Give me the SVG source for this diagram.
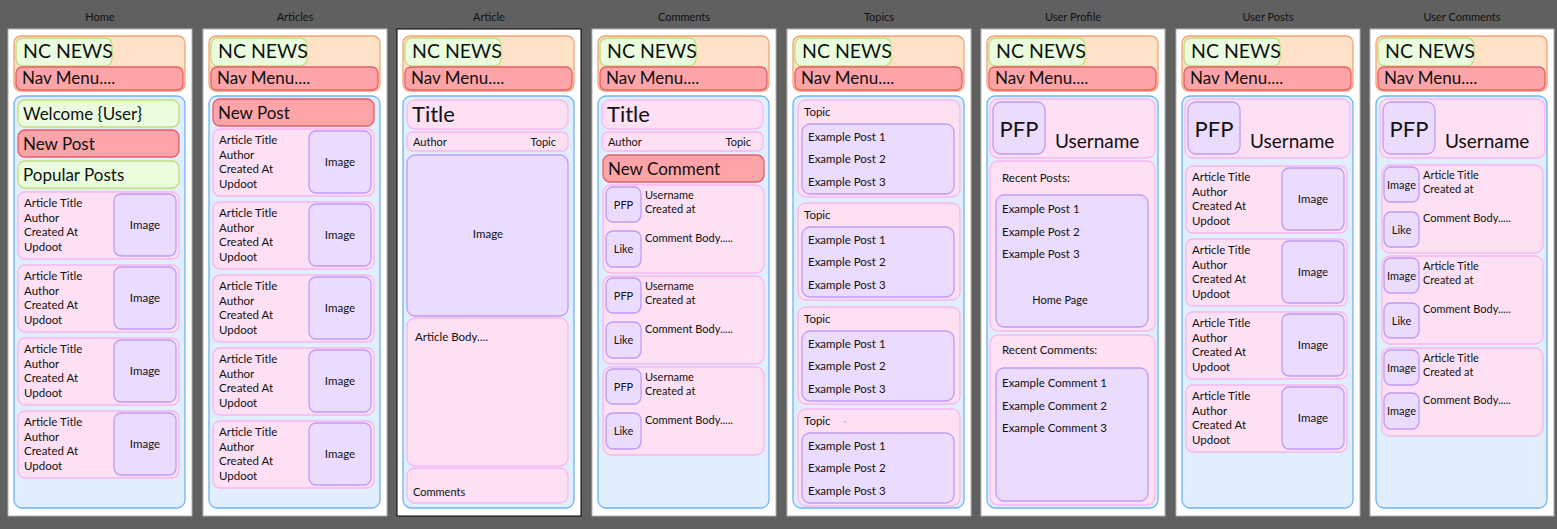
<svg xmlns="http://www.w3.org/2000/svg" width="1557" height="529" viewBox="0 0 1557 529">
<style>
text{font-family:Lato,"Open Sans","Liberation Sans",sans-serif;fill:#111}
.ttl{font-size:11px;text-anchor:middle}
.frame{fill:#fff;stroke:#b4b4b4;stroke-width:1}
.frame.sel{stroke:#000}
.hdr{fill:#fde2c8;stroke:#f7a276;stroke-width:1.3}
.logo{fill:#ebfddf;stroke:#c6dc78;stroke-width:1.3}
.nav{fill:#fda4a9;stroke:#e65d6a;stroke-width:1.3}
.body{fill:#e0eefe;stroke:#6eb2fa;stroke-width:1.3}
.card{fill:#fde0f3;stroke:#f8b7f0;stroke-width:1.3}
.inner{fill:#ebdcfe;stroke:#bf9cf5;stroke-width:1.3}
.big{font-size:19.5px}
.mid{font-size:17px}
.sm{font-size:11.5px}
.xs{font-size:11px}
.c{text-anchor:middle}
.e{text-anchor:end}
.huge{font-size:22px}
.user{font-size:19px}
</style>
<defs>
<g id="header">
<rect class="hdr" x="6" y="36" width="171" height="55" rx="7"/>
<rect class="logo" x="8" y="38" width="96" height="28" rx="7"/>
<rect class="nav" x="8" y="67" width="167" height="23" rx="6"/>
<rect class="body" x="6" y="96" width="171" height="412" rx="8"/>
</g>
<g id="artcard">
<rect class="card" x="10" y="0" width="161" height="67" rx="7"/>
<rect class="inner" x="106" y="2" width="62" height="62" rx="7"/>
<text class="sm c" x="137" y="37">Image</text>
<text class="sm" x="16" y="15">Article Title</text>
<text class="sm" x="16" y="29.7">Author</text>
<text class="sm" x="16" y="44.4">Created At</text>
<text class="sm" x="16" y="59">Updoot</text>
</g>
<g id="topiccard">
<rect class="card" x="11" y="0" width="162" height="97" rx="8"/>
<text class="sm" x="17" y="16">Topic</text>
<rect class="inner" x="15" y="24" width="152" height="70" rx="8"/>
<text class="sm" x="21" y="41">Example Post 1</text>
<text class="sm" x="21" y="63">Example Post 2</text>
<text class="sm" x="21" y="86">Example Post 3</text>
</g>
<g id="profile">
<rect class="card" x="9" y="99" width="165" height="59" rx="8"/>
<rect class="inner" x="12" y="102" width="52" height="52" rx="8"/>
<text class="huge c" x="38" y="137">PFP</text>
<text class="user" x="74" y="148">Username</text>
</g>
</defs>
<rect x="0" y="0" width="1557" height="529" fill="#606060"/>

<g id="home" transform="translate(8,0)">
<text class="ttl" x="92" y="21">Home</text>
<rect class="frame" x="0" y="29" width="184" height="487"/>
<use href="#header"/>
<text class="big" x="15" y="58">NC NEWS</text>
<text class="mid" x="14" y="84">Nav Menu....</text>
<rect class="logo" x="10" y="100" width="161" height="27" rx="7"/>
<text class="mid" x="15" y="120">Welcome {User}</text>
<rect class="nav" x="10" y="130" width="161" height="27" rx="7"/>
<text class="mid" x="15" y="150">New Post</text>
<rect class="logo" x="10" y="161" width="161" height="27" rx="7"/>
<text class="mid" x="15" y="181">Popular Posts</text>
<use href="#artcard" y="192"/>
<use href="#artcard" y="265"/>
<use href="#artcard" y="338"/>
<use href="#artcard" y="411"/>
</g>

<g id="articles" transform="translate(203,0)">
<text class="ttl" x="92" y="21">Articles</text>
<rect class="frame" x="0" y="29" width="184" height="487"/>
<use href="#header"/>
<text class="big" x="15" y="58">NC NEWS</text>
<text class="mid" x="14" y="84">Nav Menu....</text>
<rect class="nav" x="10" y="99" width="161" height="27" rx="7"/>
<text class="mid" x="15" y="119">New Post</text>
<use href="#artcard" y="129"/>
<use href="#artcard" y="202"/>
<use href="#artcard" y="275"/>
<use href="#artcard" y="348"/>
<use href="#artcard" y="421"/>
</g>

<g id="article" transform="translate(397,0)">
<text class="ttl" x="92" y="21">Article</text>
<rect class="frame sel" x="0" y="29" width="184" height="487"/>
<use href="#header"/>
<text class="big" x="15" y="58">NC NEWS</text>
<text class="mid" x="14" y="84">Nav Menu....</text>
<rect class="card" x="10" y="100" width="161" height="29" rx="8"/>
<text class="huge" x="15" y="122">Title</text>
<rect class="card" x="10" y="132" width="161" height="19" rx="6"/>
<text class="xs" x="16" y="146">Author</text>
<text class="xs e" x="159" y="146">Topic</text>
<rect class="inner" x="10" y="155" width="161" height="161" rx="8"/>
<text class="sm c" x="91" y="238">Image</text>
<rect class="card" x="10" y="318" width="161" height="148" rx="8"/>
<text class="sm" x="18" y="341">Article Body....</text>
<rect class="card" x="10" y="468" width="161" height="35" rx="8"/>
<text class="xs" x="16" y="496">Comments</text>
</g>

<g id="comments" transform="translate(592,0)">
<text class="ttl" x="92" y="21">Comments</text>
<rect class="frame" x="0" y="29" width="184" height="487"/>
<use href="#header"/>
<text class="big" x="15" y="58">NC NEWS</text>
<text class="mid" x="14" y="84">Nav Menu....</text>
<rect class="card" x="10" y="100" width="161" height="29" rx="8"/>
<text class="huge" x="15" y="122">Title</text>
<rect class="card" x="10" y="132" width="161" height="19" rx="6"/>
<text class="xs" x="16" y="146">Author</text>
<text class="xs e" x="159" y="146">Topic</text>
<rect class="nav" x="11" y="155" width="161" height="27" rx="7"/>
<text class="mid" x="16" y="175">New Comment</text>
<g transform="translate(0,185)">
<rect class="card" x="11" y="0" width="161" height="88" rx="8"/>
<rect class="inner" x="14" y="2" width="35" height="35" rx="7"/>
<text class="xs c" x="31.5" y="24">PFP</text>
<rect class="inner" x="14" y="46" width="35" height="36" rx="7"/>
<text class="xs c" x="31.5" y="68">Like</text>
<text class="xs" x="53" y="14">Username</text>
<text class="xs" x="53" y="28">Created at</text>
<text class="xs" x="53" y="57">Comment Body.....</text>
</g>
<g transform="translate(0,276)">
<rect class="card" x="11" y="0" width="161" height="88" rx="8"/>
<rect class="inner" x="14" y="2" width="35" height="35" rx="7"/>
<text class="xs c" x="31.5" y="24">PFP</text>
<rect class="inner" x="14" y="46" width="35" height="36" rx="7"/>
<text class="xs c" x="31.5" y="68">Like</text>
<text class="xs" x="53" y="14">Username</text>
<text class="xs" x="53" y="28">Created at</text>
<text class="xs" x="53" y="57">Comment Body.....</text>
</g>
<g transform="translate(0,367)">
<rect class="card" x="11" y="0" width="161" height="88" rx="8"/>
<rect class="inner" x="14" y="2" width="35" height="35" rx="7"/>
<text class="xs c" x="31.5" y="24">PFP</text>
<rect class="inner" x="14" y="46" width="35" height="36" rx="7"/>
<text class="xs c" x="31.5" y="68">Like</text>
<text class="xs" x="53" y="14">Username</text>
<text class="xs" x="53" y="28">Created at</text>
<text class="xs" x="53" y="57">Comment Body.....</text>
</g>
</g>

<g id="topics" transform="translate(787,0)">
<text class="ttl" x="92" y="21">Topics</text>
<rect class="frame" x="0" y="29" width="184" height="487"/>
<use href="#header"/>
<text class="big" x="15" y="58">NC NEWS</text>
<text class="mid" x="14" y="84">Nav Menu....</text>
<use href="#topiccard" y="100"/>
<use href="#topiccard" y="203"/>
<use href="#topiccard" y="307"/>
<use href="#topiccard" y="409"/>
<rect x="57" y="421" width="1.5" height="1.5" fill="#8fb4e8"/>
</g>

<g id="user-profile" transform="translate(981,0)">
<text class="ttl" x="92" y="21">User Profile</text>
<rect class="frame" x="0" y="29" width="184" height="487"/>
<use href="#header"/>
<text class="big" x="15" y="58">NC NEWS</text>
<text class="mid" x="14" y="84">Nav Menu....</text>
<use href="#profile"/>
<rect class="card" x="9" y="161" width="165" height="170" rx="8"/>
<text class="sm" x="21" y="182">Recent Posts:</text>
<rect class="inner" x="15" y="195" width="152" height="132" rx="8"/>
<text class="sm" x="21" y="213">Example Post 1</text>
<text class="sm" x="21" y="236">Example Post 2</text>
<text class="sm" x="21" y="258">Example Post 3</text>
<text class="xs c" x="79" y="304">Home Page</text>
<rect class="card" x="9" y="335" width="165" height="170" rx="8"/>
<text class="sm" x="21" y="354">Recent Comments:</text>
<rect class="inner" x="15" y="368" width="152" height="133" rx="8"/>
<text class="sm" x="21" y="387">Example Comment 1</text>
<text class="sm" x="21" y="410">Example Comment 2</text>
<text class="sm" x="21" y="432">Example Comment 3</text>
</g>

<g id="user-posts" transform="translate(1176,0)">
<text class="ttl" x="92" y="21">User Posts</text>
<rect class="frame" x="0" y="29" width="184" height="487"/>
<use href="#header"/>
<text class="big" x="15" y="58">NC NEWS</text>
<text class="mid" x="14" y="84">Nav Menu....</text>
<use href="#profile"/>
<use href="#artcard" y="166"/>
<use href="#artcard" y="239"/>
<use href="#artcard" y="312"/>
<use href="#artcard" y="385"/>
</g>

<g id="user-comments" transform="translate(1370,0)">
<text class="ttl" x="92" y="21">User Comments</text>
<rect class="frame" x="0" y="29" width="184" height="487"/>
<use href="#header"/>
<text class="big" x="15" y="58">NC NEWS</text>
<text class="mid" x="14" y="84">Nav Menu....</text>
<use href="#profile" x="1"/>
<g transform="translate(0,165)">
<rect class="card" x="12" y="0" width="161" height="88" rx="8"/>
<rect class="inner" x="14" y="2" width="35" height="35" rx="7"/>
<text class="xs c" x="31.5" y="24">Image</text>
<rect class="inner" x="14" y="47" width="35" height="35" rx="7"/>
<text class="xs c" x="31.5" y="69">Like</text>
<text class="xs" x="53" y="14">Article Title</text>
<text class="xs" x="53" y="28">Created at</text>
<text class="xs" x="53" y="57">Comment Body.....</text>
</g>
<g transform="translate(0,256)">
<rect class="card" x="12" y="0" width="161" height="88" rx="8"/>
<rect class="inner" x="14" y="2" width="35" height="35" rx="7"/>
<text class="xs c" x="31.5" y="24">Image</text>
<rect class="inner" x="14" y="47" width="35" height="35" rx="7"/>
<text class="xs c" x="31.5" y="69">Like</text>
<text class="xs" x="53" y="14">Article Title</text>
<text class="xs" x="53" y="28">Created at</text>
<text class="xs" x="53" y="57">Comment Body.....</text>
</g>
<g transform="translate(0,348)">
<rect class="card" x="12" y="0" width="161" height="88" rx="8"/>
<rect class="inner" x="14" y="2" width="35" height="35" rx="7"/>
<text class="xs c" x="31.5" y="24">Image</text>
<rect class="inner" x="14" y="45" width="35" height="36" rx="7"/>
<text class="xs c" x="31.5" y="67">Image</text>
<text class="xs" x="53" y="14">Article Title</text>
<text class="xs" x="53" y="28">Created at</text>
<text class="xs" x="53" y="56">Comment Body.....</text>
</g>
</g>

<g id="connectors"></g>
</svg>
